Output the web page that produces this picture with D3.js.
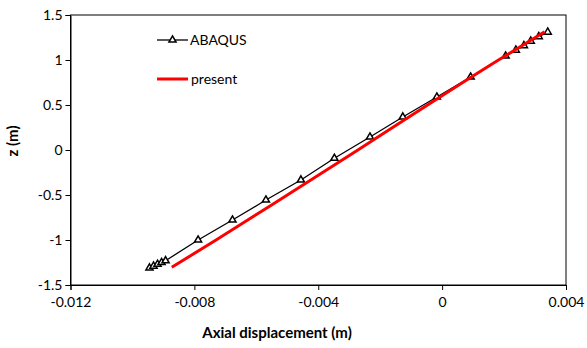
<!DOCTYPE html>
<html>
<head>
<meta charset="utf-8">
<script src="https://cdn.jsdelivr.net/npm/d3@7"></script>
<style>
  body { margin: 0; background: white; }
  svg { font-family: Lato, "Liberation Sans", sans-serif; }
</style>
</head>
<body>
<div id="wrapper"></div>
<script>
// ABAQUS points (axial displacement in m, z in m)
var abaqusX = [-0.00945, -0.00932, -0.00919, -0.00906, -0.00893,
               -0.00788, -0.00677, -0.00569, -0.00456, -0.00348,
               -0.00233, -0.00127, -0.00017, 0.00092, 0.00205,
               0.00238, 0.00264, 0.00286, 0.00312, 0.00341];
var abaqusZ = [-1.31, -1.29, -1.27, -1.25, -1.23,
               -1.0, -0.778, -0.556, -0.333, -0.092,
               0.144, 0.367, 0.589, 0.811, 1.044,
               1.11, 1.16, 1.21, 1.26, 1.31];

// present solution
var presentX = [-0.00873, -0.00730, -0.00500, -0.00272, -0.00047, 0.00182, 0.00331];
var presentZ = [-1.303, -1.0, -0.5, 0, 0.5, 1.0, 1.314];

var xTicks = [-0.012, -0.008, -0.004, 0, 0.004];
var yTicks = [-1.5, -1, -0.5, 0, 0.5, 1, 1.5];

var xLabel = "Axial displacement (m)";
var yLabel = "z (m)";
var seriesNames = ["ABAQUS", "present"];

function create(){
    const dimension = {
        width: 587,
        height: 348,
        margin: { top: 15, right: 21, bottom: 63, left: 70.5 }
    };
    dimension.boundedWidth  = dimension.width  - dimension.margin.left - dimension.margin.right;
    dimension.boundedHeight = dimension.height - dimension.margin.top  - dimension.margin.bottom;

    const svg = d3.select("#wrapper")
        .append("svg")
        .attr("width", dimension.width)
        .attr("height", dimension.height);

    const g = svg.append("g")
        .attr("transform", "translate(" + dimension.margin.left + "," + dimension.margin.top + ")");

    var x = d3.scaleLinear()
        .domain([-0.012, 0.004])
        .range([0, dimension.boundedWidth]);
    var y = d3.scaleLinear()
        .domain([-1.5, 1.5])
        .range([dimension.boundedHeight, 0]);

    // plot border
    g.append("rect")
        .attr("width", dimension.boundedWidth)
        .attr("height", dimension.boundedHeight)
        .attr("fill", "none")
        .attr("stroke", "#000")
        .attr("stroke-width", 1);

    // X axis
    var xAxis = g.append("g")
        .attr("transform", "translate(0," + dimension.boundedHeight + ")")
        .call(d3.axisBottom(x).tickValues(xTicks).tickSize(5).tickPadding(7)
            .tickFormat(d => d === 0 ? "0" : String(+d.toFixed(3))));
    // Y axis
    var yAxis = g.append("g")
        .call(d3.axisLeft(y).tickValues(yTicks).tickSize(5).tickPadding(3)
            .tickFormat(d => String(d)));

    [xAxis, yAxis].forEach(function(a){
        a.select(".domain").attr("stroke", "#000");
        a.selectAll(".tick line").attr("stroke", "#000");
        a.selectAll("text")
            .attr("font-family", "Lato, sans-serif")
            .attr("font-size", 14)
            .attr("fill", "#000");
    });
    xAxis.selectAll("text").attr("dy", "0.71em");

    // axis titles
    svg.append("text")
        .attr("x", 277)
        .attr("y", 338)
        .attr("text-anchor", "middle")
        .attr("font-weight", "bold")
        .attr("font-size", 15)
        .text(xLabel);
    svg.append("text")
        .attr("transform", "translate(18,141) rotate(-90)")
        .attr("text-anchor", "middle")
        .attr("font-weight", "bold")
        .attr("font-size", 15)
        .text(yLabel);

    var abaqus = abaqusX.map((v, i) => ({ x: v, z: abaqusZ[i] }));
    var present = presentX.map((v, i) => ({ x: v, z: presentZ[i] }));

    var line = d3.line().x(d => x(d.x)).y(d => y(d.z));
    var smooth = d3.line().x(d => x(d.x)).y(d => y(d.z)).curve(d3.curveMonotoneY);

    // ABAQUS line
    g.append("path")
        .datum(abaqus)
        .attr("d", line)
        .attr("fill", "none")
        .attr("stroke", "#000")
        .attr("stroke-width", 1.3);

    var tri = d3.symbol().type(d3.symbolTriangle).size(22);
    g.selectAll("path.marker")
        .data(abaqus)
        .enter()
        .append("path")
        .attr("class", "marker")
        .attr("d", tri)
        .attr("transform", d => "translate(" + x(d.x) + "," + y(d.z) + ")")
        .attr("fill", "white")
        .attr("stroke", "#000")
        .attr("stroke-width", 1.5);

    // present line
    g.append("path")
        .datum(present)
        .attr("d", smooth)
        .attr("fill", "none")
        .attr("stroke", "#ff0000")
        .attr("stroke-width", 3);

    // legend
    var legend = svg.append("g");
    legend.append("line")
        .attr("x1", 157).attr("x2", 188).attr("y1", 40).attr("y2", 40)
        .attr("stroke", "#000").attr("stroke-width", 1.3);
    legend.append("path")
        .attr("d", tri)
        .attr("transform", "translate(172.5,40)")
        .attr("fill", "white").attr("stroke", "#000").attr("stroke-width", 1.5);
    legend.append("text")
        .attr("x", 190).attr("y", 45)
        .attr("font-size", 14)
        .text(seriesNames[0]);
    legend.append("line")
        .attr("x1", 157).attr("x2", 188).attr("y1", 79).attr("y2", 79)
        .attr("stroke", "#ff0000").attr("stroke-width", 3);
    legend.append("text")
        .attr("x", 191).attr("y", 84)
        .attr("font-size", 14)
        .text(seriesNames[1]);
}
create();
</script>
</body>
</html>
